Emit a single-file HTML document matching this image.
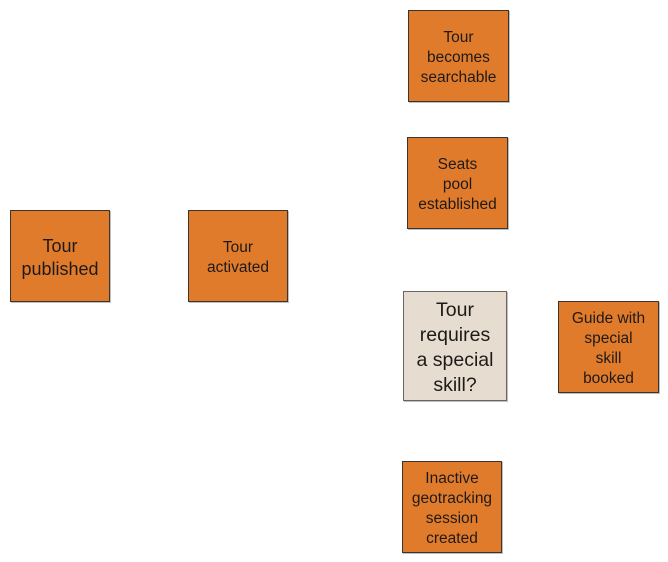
<!DOCTYPE html>
<html>
<head>
<meta charset="utf-8">
<style>
  html, body { margin:0; padding:0; background:#ffffff; }
  body { width:668px; height:562px; position:relative; overflow:hidden;
         font-family:"Liberation Sans", sans-serif; color:#1e1a17; }
  .box { position:absolute; box-sizing:border-box; border:1px solid #3a3430;
         background:#e17b2c; display:flex; align-items:center; justify-content:center;
         text-align:center; font-size:15.5px; line-height:20px; padding-top:3px;
         box-shadow:1px 1px 0 rgba(0,0,0,0.25); }
  .q { background:#e6ddd0; border-color:#6a6560; font-size:19.5px; line-height:25px; }
</style>
</head>
<body>
  <div class="box" style="left:10px;top:210px;width:100px;height:92px;font-size:18px;line-height:23px;">Tour<br>published</div>
  <div class="box" style="left:188px;top:210px;width:100px;height:92px;">Tour<br>activated</div>
  <div class="box" style="left:408px;top:10px;width:101px;height:92px;">Tour<br>becomes<br>searchable</div>
  <div class="box" style="left:407px;top:137px;width:101px;height:92px;">Seats<br>pool<br>established</div>
  <div class="box q" style="left:403px;top:291px;width:104px;height:110px;">Tour<br>requires<br>a special<br>skill?</div>
  <div class="box" style="left:558px;top:301px;width:101px;height:92px;">Guide with<br>special<br>skill<br>booked</div>
  <div class="box" style="left:402px;top:461px;width:100px;height:92px;">Inactive<br>geotracking<br>session<br>created</div>
</body>
</html>
